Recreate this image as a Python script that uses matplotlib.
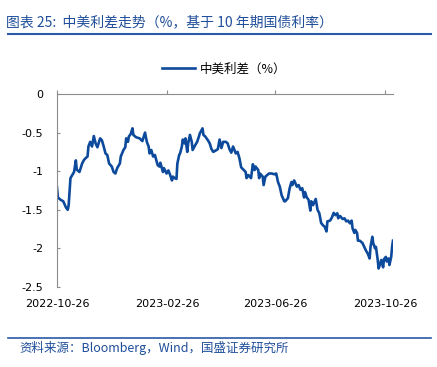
import matplotlib
matplotlib.use("Agg")
from matplotlib import pyplot as plt
import matplotlib.dates as mdates
import pandas as pd

plt.rcParams['font.family'] = ['DejaVu Sans', 'Noto Sans CJK SC']

CJK = ['Noto Sans CJK SC', 'DejaVu Sans']
BLUE = '#0d4a9c'
TXT_BLUE = '#1f4e9a'
GRAY = '#8c8c8c'

dates = [
	"2022-10-26", "2022-10-27", "2022-10-30", "2022-11-02", "2022-11-05", "2022-11-07",
	"2022-11-08", "2022-11-10", "2022-11-12", "2022-11-14", "2022-11-16", "2022-11-17",
	"2022-11-20", "2022-11-23", "2022-11-25", "2022-11-27", "2022-11-29", "2022-11-30",
	"2022-12-02", "2022-12-04", "2022-12-06", "2022-12-08", "2022-12-10", "2022-12-13",
	"2022-12-15", "2022-12-17", "2022-12-19", "2022-12-21", "2022-12-23", "2022-12-26",
	"2022-12-28", "2022-12-30", "2023-01-01", "2023-01-04", "2023-01-05", "2023-01-08",
	"2023-01-10", "2023-01-11", "2023-01-13", "2023-01-14", "2023-01-16", "2023-01-18",
	"2023-01-19", "2023-01-22", "2023-01-26", "2023-01-29", "2023-02-01", "2023-02-03",
	"2023-02-05", "2023-02-06", "2023-02-08", "2023-02-10", "2023-02-12", "2023-02-15",
	"2023-02-17", "2023-02-18", "2023-02-21", "2023-02-22", "2023-02-25", "2023-02-27",
	"2023-03-01", "2023-03-03", "2023-03-04", "2023-03-06", "2023-03-08", "2023-03-09",
	"2023-03-11", "2023-03-12", "2023-03-14", "2023-03-15", "2023-03-17", "2023-03-18",
	"2023-03-20", "2023-03-21", "2023-03-23", "2023-03-25", "2023-03-26", "2023-03-29",
	"2023-03-31", "2023-04-02", "2023-04-03", "2023-04-06", "2023-04-07", "2023-04-09",
	"2023-04-12", "2023-04-14", "2023-04-16", "2023-04-18", "2023-04-21", "2023-04-23",
	"2023-04-25", "2023-04-27", "2023-04-29", "2023-05-02", "2023-05-04", "2023-05-06",
	"2023-05-08", "2023-05-10", "2023-05-13", "2023-05-15", "2023-05-17", "2023-05-19",
	"2023-05-22", "2023-05-24", "2023-05-25", "2023-05-27", "2023-05-30", "2023-06-01",
	"2023-06-03", "2023-06-04", "2023-06-07", "2023-06-08", "2023-06-09", "2023-06-12",
	"2023-06-13", "2023-06-15", "2023-06-17", "2023-06-19", "2023-06-22", "2023-06-25",
	"2023-06-27", "2023-06-29", "2023-07-01", "2023-07-03", "2023-07-06", "2023-07-07",
	"2023-07-10", "2023-07-12", "2023-07-14", "2023-07-15", "2023-07-17", "2023-07-20",
	"2023-07-22", "2023-07-24", "2023-07-26", "2023-07-28", "2023-07-29", "2023-07-31",
	"2023-08-02", "2023-08-04", "2023-08-05", "2023-08-07", "2023-08-10", "2023-08-12",
	"2023-08-14", "2023-08-16", "2023-08-18", "2023-08-20", "2023-08-22", "2023-08-23",
	"2023-08-26", "2023-08-28", "2023-08-30", "2023-09-01", "2023-09-03", "2023-09-04",
	"2023-09-06", "2023-09-09", "2023-09-11", "2023-09-13", "2023-09-15", "2023-09-17",
	"2023-09-19", "2023-09-20", "2023-09-22", "2023-09-23", "2023-09-25", "2023-09-26",
	"2023-09-28", "2023-10-01", "2023-10-03", "2023-10-05", "2023-10-07", "2023-10-09",
	"2023-10-10", "2023-10-12", "2023-10-13", "2023-10-15", "2023-10-16", "2023-10-18",
	"2023-10-19", "2023-10-21", "2023-10-22", "2023-10-24", "2023-10-25", "2023-10-27",
	"2023-10-28", "2023-10-30", "2023-10-31", "2023-11-02", "2023-11-03", "2023-11-04",
]

spread = [
	-1.21, -1.34, -1.37, -1.39, -1.47, -1.50,
	-1.44, -1.09, -1.05, -1.01, -0.86, -0.98,
	-1.01, -0.90, -0.855, -0.83, -0.81, -0.68,
	-0.62, -0.68, -0.545, -0.64, -0.69, -0.575,
	-0.60, -0.68, -0.77, -0.79, -0.90, -0.94,
	-1.01, -1.03, -0.96, -0.90, -0.81, -0.725,
	-0.69, -0.575, -0.62, -0.55, -0.52, -0.445,
	-0.53, -0.56, -0.575, -0.61, -0.50, -0.62,
	-0.68, -0.77, -0.725, -0.81, -0.79, -0.92,
	-0.94, -0.89, -1.01, -0.96, -1.03, -0.99,
	-1.05, -1.12, -1.07, -1.09, -1.10, -0.90,
	-0.79, -0.77, -0.68, -0.59, -0.64, -0.575,
	-0.75, -0.64, -0.53, -0.62, -0.725, -0.66,
	-0.62, -0.55, -0.51, -0.445, -0.53, -0.55,
	-0.60, -0.64, -0.715, -0.75, -0.73, -0.715,
	-0.59, -0.70, -0.62, -0.62, -0.64, -0.715,
	-0.76, -0.68, -0.77, -0.75, -0.83, -0.95,
	-0.985, -1.01, -1.09, -1.05, -1.09, -0.91,
	-0.985, -0.94, -0.985, -1.09, -1.03, -1.07,
	-1.18, -1.07, -1.05, -1.03, -1.03, -1.04,
	-1.03, -1.14, -1.20, -1.31, -1.39, -1.39,
	-1.35, -1.22, -1.14, -1.18, -1.12, -1.20,
	-1.18, -1.24, -1.22, -1.34, -1.27, -1.34,
	-1.37, -1.51, -1.39, -1.44, -1.36, -1.50,
	-1.545, -1.67, -1.70, -1.72, -1.78, -1.65,
	-1.64, -1.60, -1.54, -1.57, -1.545, -1.61,
	-1.58, -1.62, -1.61, -1.65, -1.64, -1.675,
	-1.64, -1.74, -1.80, -1.76, -1.80, -1.90,
	-1.90, -1.93, -1.98, -2.03, -2.07, -2.13,
	-1.98, -1.85, -1.93, -2.00, -1.98, -2.15,
	-2.26, -2.19, -2.15, -2.245, -2.14, -2.11,
	-2.17, -2.13, -2.215, -2.11, -1.98, -1.90,
]

tick_dates = ["2022-10-26", "2023-02-26", "2023-06-26", "2023-10-26"]
y_ticks = [0, -0.5, -1, -1.5, -2, -2.5]

x = pd.to_datetime(dates)

fig = plt.figure(figsize=(4.37, 3.67), dpi=100)
ax = fig.add_axes([0.1304, 0.218, 0.7689, 0.5259])

ax.plot(x, spread, color=BLUE, lw=1.9, label='中美利差（%）')

ax.set_xlim(x[0], x[-1])
ax.set_ylim(-2.5, 0)
ax.set_yticks(y_ticks)
ax.set_yticklabels([f"{v:g}" for v in y_ticks])
ax.set_xticks(pd.to_datetime(tick_dates))
ax.xaxis.set_major_formatter(mdates.DateFormatter('%Y-%m-%d'))

for s in ['right', 'bottom']:
	ax.spines[s].set_visible(False)
for s in ['left', 'top']:
	ax.spines[s].set_color(GRAY)
	ax.spines[s].set_linewidth(0.8)

ax.tick_params(axis='x', which='both', top=True, bottom=False, labeltop=False,
			   labelbottom=True, direction='out', length=3, color=GRAY,
			   labelsize=8, pad=6)
ax.tick_params(axis='y', direction='in', length=2.5, color=GRAY, labelsize=8, pad=10)

leg = fig.legend(loc='center', bbox_to_anchor=(0.513, 0.812), frameon=False,
				 prop={'family': CJK, 'size': 9}, handlelength=2.6, handletextpad=0.4)

# header / footer
fig.text(0.014, 0.94, '图表 25:  中美利差走势（%，基于 10 年期国债利率）', color=TXT_BLUE,
		 fontsize=10, family=CJK, va='center', ha='left', style='italic')
fig.add_artist(plt.Line2D([0.019, 0.986], [0.907, 0.907], color='#2a5aa8', lw=1.5))
fig.add_artist(plt.Line2D([0.019, 0.986], [0.079, 0.079], color='#2a5aa8', lw=1.2))
fig.text(0.045, 0.053, '资料来源：Bloomberg，Wind，国盛证券研究所', color=TXT_BLUE,
		 fontsize=9, family=CJK, va='center', ha='left', style='italic')

fig.savefig('out.png', dpi=100)
